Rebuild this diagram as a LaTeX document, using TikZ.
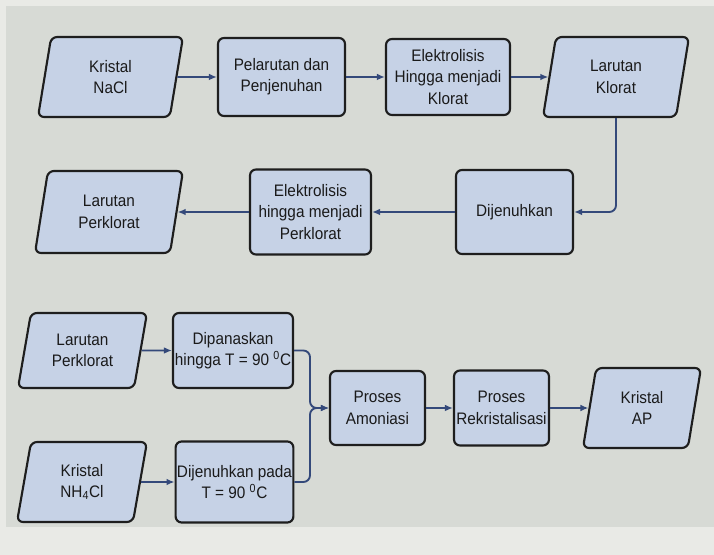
\documentclass[tikz,border=0pt]{standalone}
\usepackage{fontspec}
\setmainfont{Liberation Sans}[FakeStretch=0.92]
\usetikzlibrary{shapes.geometric,arrows.meta}
\definecolor{bgc}{HTML}{D7DAD5}
\definecolor{pagec}{HTML}{E9EAE6}
\definecolor{boxc}{HTML}{C6D2E6}
\definecolor{arrc}{HTML}{34497A}
\definecolor{edgec}{HTML}{1E1E1E}
\definecolor{txtc}{HTML}{1A1A1A}
\newcommand{\boxfont}{\fontsize{12.5}{16}\selectfont}
\begin{document}
\begin{tikzpicture}[x=0.75pt,y=-0.75pt,
  proc/.style={rectangle, draw=edgec, fill=boxc, line width=1.6pt,
    rounded corners=4.5pt, align=center, inner sep=1pt, font=\boxfont, text=txtc},
  para/.style={trapezium, trapezium left angle=70, trapezium right angle=110,
    trapezium stretches body=true, draw=edgec, fill=boxc, line width=1.6pt,
    rounded corners=4.5pt, align=center, inner sep=1pt, font=\boxfont, text=txtc},
  conn/.style={draw=arrc, line width=1.4pt, -{Latex[length=6pt,width=5pt]},
    rounded corners=5pt}]
\useasboundingbox (0,0) rectangle (714,555);
\fill[pagec] (0,0) rectangle (714,555);
\fill[bgc] (6,6) rectangle (714,527);
% row 1
\node[para, minimum width=108.75pt, minimum height=60pt] (nacl) at (110.5,77) {Kristal\\NaCl};
\node[proc, minimum width=95.25pt, minimum height=58.5pt] (pel) at (281.5,77) {Pelarutan dan\\Penjenuhan};
\node[proc, minimum width=93pt, minimum height=57pt] (ekl) at (448,77) {Elektrolisis\\Hingga menjadi\\Klorat};
\node[para, minimum width=109.5pt, minimum height=60pt] (klo) at (616,77) {Larutan\\Klorat};
% row 2
\node[proc, minimum width=87.75pt, minimum height=63pt] (dij) at (514.5,212) {Dijenuhkan};
\node[proc, minimum width=90.75pt, minimum height=63.75pt] (epk) at (310.5,212) {Elektrolisis\\hingga menjadi\\Perklorat};
\node[para, minimum width=111pt, minimum height=61.5pt] (lpk) at (109,212) {Larutan\\Perklorat};
% lower part
\node[para, minimum width=96.75pt, minimum height=56.25pt] (lpk2) at (82.5,350.5) {Larutan\\Perklorat};
\node[proc, minimum width=90pt, minimum height=56.25pt] (pan) at (233,350.5) {Dipanaskan\\hingga T = 90 \textsuperscript{0}C};
\node[para, minimum width=97.5pt, minimum height=60pt] (nh4) at (82,482) {Kristal\\NH\textsubscript{4}Cl};
\node[proc, minimum width=87.75pt, minimum height=60.75pt] (jpd) at (234.5,482) {Dijenuhkan pada\\T = 90 \textsuperscript{0}C};
\node[proc, minimum width=71.25pt, minimum height=55.5pt] (amo) at (377.5,408) {Proses\\Amoniasi};
\node[proc, minimum width=71.25pt, minimum height=56.25pt] (rek) at (501.5,408) {Proses\\Rekristalisasi};
\node[para, minimum width=88.5pt, minimum height=60pt] (ap) at (642,408) {Kristal\\AP};
% connectors
\draw[conn] (nacl.east) -- (pel.west);
\draw[conn] (pel.east) -- (ekl.west);
\draw[conn] (ekl.east) -- (klo.west);
\draw[conn] (klo.south) |- (dij.east);
\draw[conn] (dij.west) -- (epk.east);
\draw[conn] (epk.west) -- (lpk.east);
\draw[conn] (lpk2.east) -- (pan.west);
\draw[conn] (nh4.east) -- (jpd.west);
\coordinate (mrg) at (310,408);
\draw[conn] (pan.east) -| (mrg) -- (amo.west);
\draw[conn] (jpd.east) -| (mrg) -- (amo.west);
\draw[conn] (amo.east) -- (rek.west);
\draw[conn] (rek.east) -- (ap.west);
\end{tikzpicture}
\end{document}
